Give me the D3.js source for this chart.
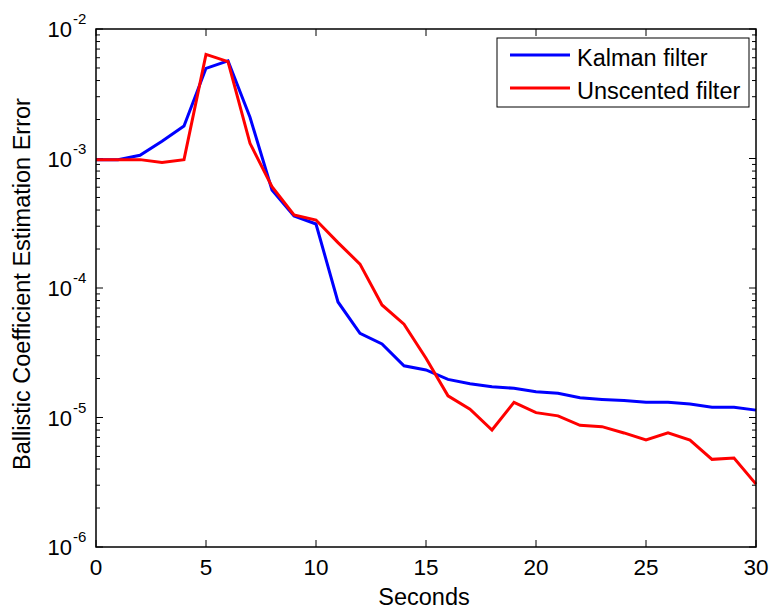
<!DOCTYPE html>
<html><head><meta charset="utf-8">
<script src="https://cdn.jsdelivr.net/npm/d3@7"></script>
<style>body{margin:0;background:#fff}svg{display:block}text{font-family:"Liberation Sans",Arial,sans-serif;fill:#000}</style>
</head><body>
<svg id="c" width="772" height="609"></svg>
<script>
const seconds = d3.range(0, 31);
const kalman = [9.8e-4,9.8e-4,1.06e-3,1.36e-3,1.78e-3,4.97e-3,5.67e-3,2.08e-3,5.71e-4,3.6e-4,3.12e-4,7.8e-5,4.47e-5,3.7e-5,2.51e-5,2.33e-5,1.97e-5,1.82e-5,1.73e-5,1.68e-5,1.58e-5,1.54e-5,1.42e-5,1.38e-5,1.35e-5,1.31e-5,1.31e-5,1.27e-5,1.2e-5,1.2e-5,1.14e-5];
const unscented = [9.8e-4,9.8e-4,9.8e-4,9.3e-4,9.8e-4,6.37e-3,5.6e-3,1.31e-3,6.05e-4,3.66e-4,3.35e-4,2.24e-4,1.53e-4,7.4e-5,5.25e-5,2.87e-5,1.47e-5,1.16e-5,8.0e-6,1.31e-5,1.09e-5,1.03e-5,8.7e-6,8.5e-6,7.6e-6,6.7e-6,7.6e-6,6.7e-6,4.75e-6,4.86e-6,3.06e-6];
const xTicks = [0,5,10,15,20,25,30];
const yExponents = [-2,-3,-4,-5,-6];
const seriesNames = ["Kalman filter","Unscented filter"];
const seriesColors = ["#0000ff","#ff0000"];

const L=96,R=756,T=29,B=547;
const svg=d3.select("#c");
const x=d3.scaleLinear().domain([0,30]).range([L,R]);
const y=d3.scaleLog().domain([1e-6,1e-2]).range([B,T]);

// minor ticks
const minors=[];
for(let e=-6;e<-2;e++) for(let m=2;m<=9;m++) minors.push(m*Math.pow(10,e));
const tg=svg.append("g").attr("stroke","#000").attr("stroke-width",1);
minors.forEach(v=>{
  tg.append("line").attr("x1",L).attr("x2",L+4).attr("y1",y(v)).attr("y2",y(v));
  tg.append("line").attr("x1",R).attr("x2",R-4).attr("y1",y(v)).attr("y2",y(v));
});
yExponents.forEach(e=>{
  const v=Math.pow(10,e);
  tg.append("line").attr("x1",L).attr("x2",L+7).attr("y1",y(v)).attr("y2",y(v));
  tg.append("line").attr("x1",R).attr("x2",R-7).attr("y1",y(v)).attr("y2",y(v));
});
xTicks.forEach(v=>{
  tg.append("line").attr("x1",x(v)).attr("x2",x(v)).attr("y1",B).attr("y2",B-7);
  tg.append("line").attr("x1",x(v)).attr("x2",x(v)).attr("y1",T).attr("y2",T+7);
});

// lines
const line=d3.line().x((d,i)=>x(seconds[i])).y(d=>y(d));
[kalman,unscented].forEach((s,i)=>{
  svg.append("path").datum(s).attr("d",line).attr("fill","none")
    .attr("stroke",seriesColors[i]).attr("stroke-width",3).attr("stroke-linejoin","miter");
});

// frame
svg.append("rect").attr("x",L).attr("y",T).attr("width",R-L).attr("height",B-T)
  .attr("fill","none").attr("stroke","#000").attr("stroke-width",1.5);

// x labels
xTicks.forEach(v=>{
  svg.append("text").attr("x",x(v)).attr("y",B+28).attr("text-anchor","middle")
    .attr("font-size",22.5).text(v);
});
// y labels
yExponents.forEach(e=>{
  const yy=y(Math.pow(10,e));
  svg.append("text").attr("x",72).attr("y",yy+8).attr("text-anchor","end").attr("font-size",22).text("10");
  svg.append("text").attr("x",73).attr("y",yy-5).attr("text-anchor","start").attr("font-size",15).text(String(e));
});
svg.append("text").attr("x",424).attr("y",605).attr("text-anchor","middle").attr("font-size",23.5).text("Seconds");
svg.append("text").attr("transform",`translate(30,284) rotate(-90)`).attr("text-anchor","middle")
  .attr("font-size",23.5).text("Ballistic Coefficient Estimation Error");

// legend
const lg=svg.append("g");
lg.append("rect").attr("x",497).attr("y",38).attr("width",252).attr("height",69)
  .attr("fill","#fff").attr("stroke","#000").attr("stroke-width",1);
seriesNames.forEach((n,i)=>{
  const yy=55+i*33;
  lg.append("line").attr("x1",510).attr("x2",570).attr("y1",yy).attr("y2",yy)
    .attr("stroke",seriesColors[i]).attr("stroke-width",3);
  lg.append("text").attr("x",577).attr("y",yy+11).attr("font-size",23.5).text(n);
});
</script>
</body></html>
